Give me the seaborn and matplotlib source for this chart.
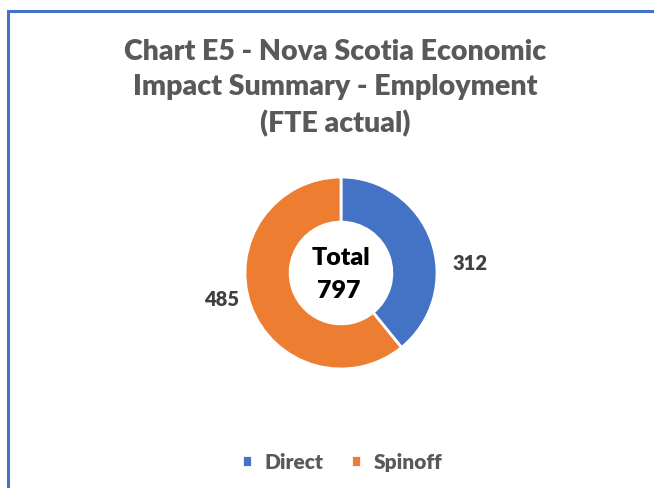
import matplotlib
matplotlib.use("Agg")
import matplotlib.pyplot as plt
from matplotlib.patches import Rectangle
import seaborn as sns

# data
categories = ["Direct", "Spinoff"]
values = [312, 485]
colors = ["#4472C4", "#ED7D31"]
total = sum(values)

sns.set_theme(style="white")
plt.rcParams['font.family'] = ['Lato', 'DejaVu Sans']

fig = plt.figure(figsize=(6.54, 4.89), dpi=100)

# chart border (blue line at top and left, like the cropped Excel frame)
fig.patches.append(Rectangle((7.5 / 654, -0.05), 1.2, (489 - 11.5) / 489 + 0.05,
                             transform=fig.transFigure, fill=False,
                             edgecolor="#4472C4", linewidth=2.2))

# title
fig.text(335 / 654, 1 - 88 / 489,
         "Chart E5 - Nova Scotia Economic\nImpact Summary - Employment\n(FTE actual)",
         ha="center", va="center", fontsize=20.5, fontweight="heavy",
         color="#595959", linespacing=1.42)

# donut
ax = fig.add_axes([(341 - 96) / 654, (489 - 274 - 96) / 489, 192 / 654, 192 / 489])
wedges, _ = ax.pie(values, colors=colors, startangle=90, counterclock=False,
                   radius=1.0, wedgeprops=dict(width=0.47, edgecolor="white", linewidth=2))
ax.set_xlim(-1, 1)
ax.set_ylim(-1, 1)
ax.set_aspect("equal")
ax.axis("off")

# value labels
label_pos = [(1.34, 0.11), (-1.24, -0.27)]
for v, (lx, ly) in zip(values, label_pos):
    ax.text(lx, ly, f"{v}", ha="center", va="center", fontsize=14.5,
            fontweight="heavy", color="#404040", clip_on=False)

ax.text(0, 0.17, "Total", ha="center", va="center", fontsize=18,
        fontweight="heavy", color="black")
ax.text(-0.02, -0.18, f"{total}", ha="center", va="center", fontsize=18,
        fontweight="heavy", color="black")

# legend
fig.legend(wedges, categories, loc="center", bbox_to_anchor=(342 / 654, 26 / 489),
           ncol=2, frameon=False, handlelength=0.5, handleheight=0.5,
           handletextpad=0.6, columnspacing=1.3, labelcolor="#595959",
           prop=dict(weight="heavy", size=15))

fig.savefig("out.png", dpi=100, facecolor="white")
